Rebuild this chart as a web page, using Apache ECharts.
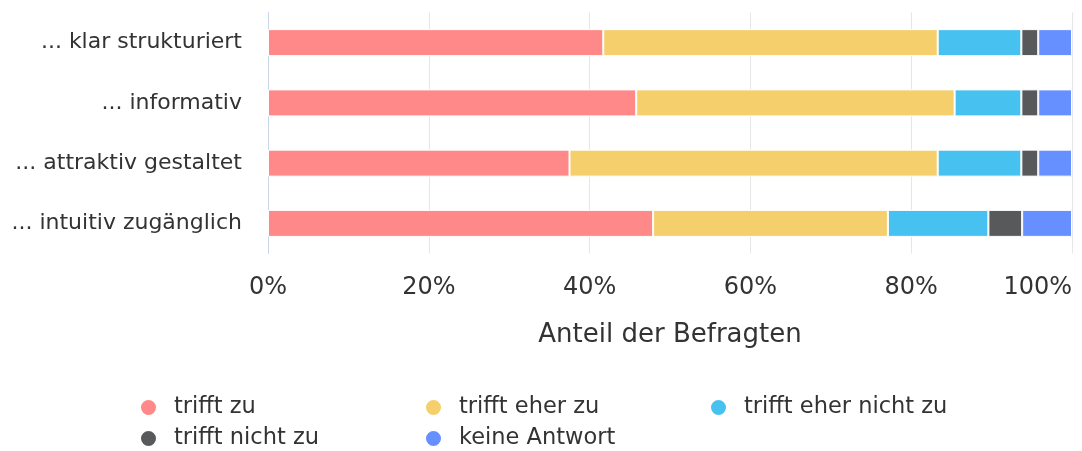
<!DOCTYPE html>
<html>
<head>
<meta charset="utf-8">
<script src="https://cdn.jsdelivr.net/npm/echarts@6/dist/echarts.min.js"></script>
<style>
html,body{margin:0;padding:0;background:#fff;}
#c{width:1082px;height:451px;}
</style>
</head>
<body>
<div id="c"></div>
<script>
const categories = ['... klar strukturiert', '... informativ', '... attraktiv gestaltet', '... intuitiv zugänglich'];
const seriesNames = ['trifft zu', 'trifft eher zu', 'trifft eher nicht zu', 'trifft nicht zu', 'keine Antwort'];
const trifftZu = [41.7, 45.8, 37.5, 47.9];
const trifftEherZu = [41.6, 39.6, 45.8, 29.2];
const trifftEherNichtZu = [10.4, 8.3, 10.4, 12.5];
const trifftNichtZu = [2.1, 2.1, 2.1, 4.2];
const keineAntwort = [4.2, 4.2, 4.2, 6.2];
const xTicks = [0, 20, 40, 60, 80, 100];
const colors = ['#ff8888', '#f4cf6b', '#47c2f0', '#58595b', '#6690ff'];

const seriesData = [trifftZu, trifftEherZu, trifftEherNichtZu, trifftNichtZu, keineAntwort];
const FONT = '"DejaVu Sans", sans-serif';

const chart = echarts.init(document.getElementById('c'), null, {renderer: 'canvas'});
chart.setOption({
  animation: false,
  color: colors,
  textStyle: {fontFamily: FONT},
  grid: {left: 268, right: 10, top: 12.5, bottom: 197.5, containLabel: false},
  legend: {
    left: 139, top: 395, width: 870, padding: 0,
    icon: 'circle', itemWidth: 17, itemHeight: 17, itemGap: 6,
    textStyle: {fontFamily: FONT, fontSize: 22.5, color: '#333', width: 244, lineHeight: 25, padding: [0, 0, 0, 12], overflow: 'truncate'},
    data: seriesNames
  },
  xAxis: {
    type: 'value', min: xTicks[0], max: xTicks[xTicks.length - 1], interval: 20,
    name: 'Anteil der Befragten', nameLocation: 'middle', nameGap: 69,
    nameTextStyle: {fontFamily: FONT, fontSize: 26, color: '#333'},
    axisLine: {show: false}, axisTick: {show: false},
    axisLabel: {formatter: '{value}%', fontFamily: FONT, fontSize: 24, color: '#333', margin: 22, alignMaxLabel: 'right'},
    splitLine: {show: true, lineStyle: {color: '#e6e6e6', width: 1}}
  },
  yAxis: {
    type: 'category', data: categories, inverse: true,
    axisLine: {show: true, lineStyle: {color: '#ccd6eb', width: 1}},
    axisTick: {show: false},
    axisLabel: {fontFamily: FONT, fontSize: 22, color: '#333', margin: 26}
  },
  series: seriesData.map((d, i) => ({
    name: seriesNames[i], type: 'bar', stack: 'total', data: d, barWidth: 27,
    itemStyle: {borderColor: '#fff', borderWidth: 1}
  }))
});
</script>
</body>
</html>
